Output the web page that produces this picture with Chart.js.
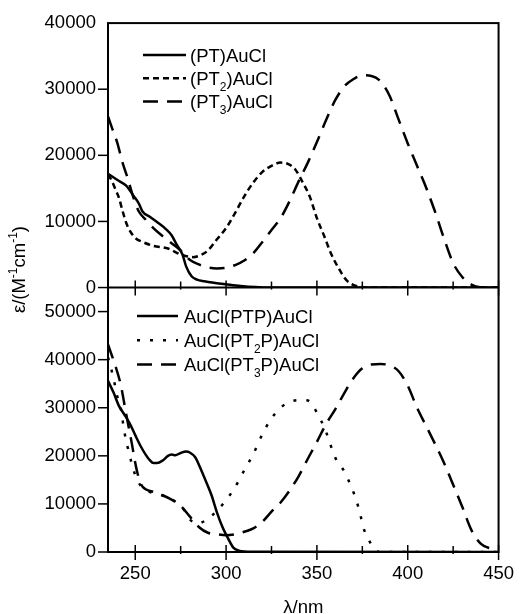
<!DOCTYPE html>
<html>
<head>
<meta charset="utf-8">
<script src="https://cdn.jsdelivr.net/npm/chart.js@4.4.1/dist/chart.umd.min.js"></script>
<style>
  html, body { margin: 0; padding: 0; background: #fff; overflow: hidden; }
  canvas { display: block; }
</style>
</head>
<body>
<canvas id="uvChart" width="525" height="614"></canvas>
<script>
// wavelength (nm) / epsilon (M-1 cm-1)

// top panel
const ptX = [235, 240, 245, 249, 252, 254, 258, 262, 267, 270, 273, 276, 278, 281, 284, 288, 294, 300, 308, 316, 325, 450];
const ptY = [17200, 16300, 15400, 13900, 12700, 11500, 10700, 9900, 8800, 7900, 6400, 5000, 3200, 1700, 1200, 950, 700, 500, 250, 80, 0, 0];

const pt2X = [235, 237, 239, 241, 243, 245, 247, 250, 254, 260, 268, 275, 282, 286, 290, 295, 300, 305, 310, 315, 320, 325, 330, 334, 338, 342, 346, 350, 354, 358, 362, 366, 370, 374, 378, 450];
const pt2Y = [17100, 16200, 14900, 13600, 11600, 9800, 8600, 7500, 6900, 6300, 5900, 5000, 4600, 4900, 5600, 7300, 9000, 11300, 13800, 15900, 17500, 18400, 18900, 18700, 17900, 16000, 13800, 10500, 7800, 5000, 2900, 1200, 400, 100, 0, 0];

const pt3X = [235, 237, 240, 243, 246, 249, 252, 256, 260, 265, 270, 275, 280, 285, 290, 295, 300, 305, 310, 315, 320, 325, 330, 335, 340, 345, 350, 355, 360, 365, 370, 375, 380, 385, 390, 395, 400, 405, 410, 415, 420, 425, 430, 435, 440, 450];
const pt3Y = [25900, 24300, 22000, 18900, 16400, 13600, 11500, 10200, 9000, 7800, 6700, 5600, 4200, 3500, 3050, 2900, 3000, 3400, 4100, 5200, 6900, 8700, 10500, 13100, 16100, 18900, 22000, 25300, 28300, 30400, 31500, 32100, 32000, 31200, 29000, 25400, 21800, 18500, 15200, 11500, 7400, 3700, 1600, 450, 50, 0];

// bottom panel
const ptpX = [235, 238, 241, 244, 247, 250, 253, 256, 258, 260, 262, 265, 268, 270, 272, 275, 278, 280, 283, 286, 289, 292, 295, 298, 301, 304, 307, 310, 315, 450];
const ptpY = [35600, 33200, 30400, 28600, 26700, 24300, 22000, 20100, 19100, 18500, 18500, 19000, 20000, 20300, 20100, 20600, 20900, 20700, 19700, 17300, 14600, 11800, 8200, 5200, 2900, 900, 300, 100, 50, 0];

const pt2pX = [235, 238, 240, 242, 244, 246, 248, 250, 253, 258, 263, 268, 272, 276, 280, 284, 288, 292, 296, 300, 305, 310, 315, 320, 325, 330, 335, 340, 345, 350, 355, 360, 365, 369, 372, 374, 376, 379, 382, 385, 450];
const pt2pY = [40500, 36200, 32500, 30000, 25000, 21500, 18500, 16000, 13800, 12500, 12000, 11300, 10500, 9200, 6800, 5900, 6400, 7500, 9000, 10800, 13500, 17000, 20400, 24500, 27800, 30000, 31200, 31600, 31500, 29000, 25000, 19700, 16800, 13500, 10400, 7600, 4600, 2200, 400, 0, 0];

const pt3pX = [235, 237, 239, 242, 245, 248, 250.5, 253, 256, 260, 265, 270, 275, 280, 285, 290, 295, 300, 305, 310, 315, 320, 325, 330, 335, 340, 345, 350, 355, 360, 365, 370, 375, 380, 385, 390, 395, 400, 405, 410, 415, 420, 425, 430, 435, 440, 445, 450];
const pt3pY = [43200, 41000, 38800, 34800, 28700, 22800, 17600, 14200, 13000, 12500, 11800, 10900, 9600, 7400, 5200, 4000, 3700, 3500, 3700, 4200, 4900, 6300, 8400, 10300, 12800, 15800, 19400, 22900, 26600, 29600, 33000, 36100, 38200, 39000, 39100, 38800, 37600, 34600, 30100, 26300, 22500, 18500, 14000, 9400, 4600, 1800, 800, 500];

// legend texts ("_n" = subscript)
const topLabels = ["(PT)AuCl", "(PT_2)AuCl", "(PT_3)AuCl"];
const botLabels = ["AuCl(PTP)AuCl", "AuCl(PT_2P)AuCl", "AuCl(PT_3P)AuCl"];

const FONT = "'Liberation Sans', Arial, sans-serif";
Chart.defaults.font.family = FONT;
Chart.defaults.color = "#000";

function pts(xs, ys) {
  return xs.map((x, i) => ({ x: x, y: ys[i] }));
}

function series(label, xs, ys, axis, dash) {
  return {
    label: label,
    data: pts(xs, ys),
    yAxisID: axis,
    borderColor: "#000",
    borderWidth: 2.5,
    borderDash: dash,
    pointRadius: 0,
    fill: false,
    cubicInterpolationMode: "monotone",
  };
}

// draws text where "_n" means a subscript digit
function richText(ctx, str, x, y, size) {
  const parts = str.split(/_(\d)/);
  let w = 0;
  parts.forEach((p, i) => {
    const sub = i % 2 === 1;
    ctx.font = (sub ? 12 : size) + "px " + FONT;
    ctx.fillText(p, x + w, sub ? y + 6 : y);
    w += ctx.measureText(p).width;
  });
  return w;
}

// frame, tick marks, legends and axis titles
const decorPlugin = {
  id: "decor",
  afterDraw(chart) {
    const { ctx, chartArea: a, scales } = chart;
    const xs = scales.x, yt = scales.yTop, yb = scales.yBot;
    ctx.save();
    ctx.strokeStyle = "#000";
    ctx.fillStyle = "#000";
    ctx.lineWidth = 2;
    ctx.setLineDash([]);
    ctx.strokeRect(a.left, a.top, a.right - a.left, a.bottom - a.top);
    ctx.beginPath();
    ctx.moveTo(a.left, yt.bottom);
    ctx.lineTo(a.right, yt.bottom);
    ctx.stroke();

    // x ticks on both panel baselines
    ctx.lineWidth = 1.5;
    xs.ticks.forEach(t => {
      if (t.value % 25 !== 0) return;
      const px = xs.getPixelForValue(t.value);
      const major = t.value % 50 === 0;
      [yt.bottom, yb.bottom].forEach(py => {
        ctx.beginPath();
        ctx.moveTo(px, py - (major ? 7 : 6));
        ctx.lineTo(px, py + (major ? 8 : 2));
        ctx.stroke();
      });
    });
    // y ticks, outward
    [yt, yb].forEach(s => {
      s.ticks.forEach(t => {
        if (t.value % 5000 !== 0 || t.value > s.max - 1) return;
        const py = s.getPixelForValue(t.value);
        const len = t.value % 10000 === 0 ? 10 : 4;
        ctx.beginPath();
        ctx.moveTo(a.left - len, py);
        ctx.lineTo(a.left, py);
        ctx.stroke();
      });
    });

    // legends
    const size = 18.5;
    ctx.textBaseline = "alphabetic";
    ctx.textAlign = "left";
    const legend = (labels, first, x0, x1, tx, y0, dy) => {
      labels.forEach((lab, i) => {
        const ds = chart.data.datasets[first + i];
        const y = y0 + i * dy;
        ctx.lineWidth = ds.borderWidth;
        ctx.setLineDash(ds.borderDash || []);
        ctx.beginPath();
        ctx.moveTo(x0, y);
        ctx.lineTo(x1, y);
        ctx.stroke();
        ctx.setLineDash([]);
        richText(ctx, lab, tx, y + 6.5, size);
      });
    };
    legend(topLabels, 0, 143, 186, 190, 55, 23.3);
    legend(botLabels, 3, 137, 178, 184, 316, 24.3);

    // x title
    ctx.font = size + "px " + FONT;
    ctx.textAlign = "center";
    ctx.fillText("\u03bb/nm", (a.left + a.right) / 2, 613);

    // y title, rotated, with superscripts
    ctx.textAlign = "left";
    const parts = [["\u03b5/(M", 0], ["-1", 1], ["cm", 0], ["-1", 1], [")", 0]];
    ctx.translate(25, yt.bottom - 18);
    ctx.rotate(-Math.PI / 2);
    let total = 0;
    parts.forEach(p => {
      ctx.font = (p[1] ? 12 : size) + "px " + FONT;
      total += ctx.measureText(p[0]).width;
    });
    let cx = -total / 2;
    parts.forEach(p => {
      ctx.font = (p[1] ? 12 : size) + "px " + FONT;
      ctx.fillText(p[0], cx, p[1] ? -8 : 0);
      cx += ctx.measureText(p[0]).width;
    });
    ctx.restore();
  },
};

const tickFont = { family: FONT, size: 18.5 };

const yAxis = (max) => ({
  type: "linear",
  position: "left",
  stack: "panels",
  stackWeight: 1,
  min: 0,
  max: max,
  grid: { display: false, drawTicks: false },
  border: { display: false },
  ticks: {
    stepSize: 5000,
    padding: 12,
    font: tickFont,
    color: "#000",
    callback: v => (v % 10000 === 0 ? v : ""),
  },
  afterFit: s => { s.width = 108; },
});

const config = {
  type: "line",
  data: {
    datasets: [
      series("(PT)AuCl", ptX, ptY, "yTop", []),
      series("(PT2)AuCl", pt2X, pt2Y, "yTop", [6, 4]),
      series("(PT3)AuCl", pt3X, pt3Y, "yTop", [15, 9]),
      series("AuCl(PTP)AuCl", ptpX, ptpY, "yBot", []),
      series("AuCl(PT2P)AuCl", pt2pX, pt2pY, "yBot", [3, 10]),
      series("AuCl(PT3P)AuCl", pt3pX, pt3pY, "yBot", [15, 9]),
    ],
  },
  options: {
    responsive: false,
    animation: false,
    devicePixelRatio: 1,
    layout: { padding: { left: 0, right: 19, top: 19, bottom: 0 } },
    plugins: {
      legend: { display: false },
      tooltip: { enabled: false },
    },
    scales: {
      x: {
        type: "linear",
        position: "bottom",
        min: 235,
        max: 450,
        grid: { display: false, drawTicks: false },
        border: { display: false },
        ticks: {
          stepSize: 25,
          includeBounds: false,
          padding: 11,
          autoSkip: false,
          maxRotation: 0,
          font: tickFont,
          color: "#000",
          callback: v => (v % 50 === 0 ? v : ""),
        },
        afterFit: s => { s.height = 62; },
      },
      // left stacked axes are laid out bottom-up, so the lower panel comes first
      yBot: yAxis(55000),
      yTop: yAxis(40000),
    },
  },
  plugins: [decorPlugin],
};

const uvChart = new Chart(document.getElementById("uvChart").getContext("2d"), config);
</script>
</body>
</html>
